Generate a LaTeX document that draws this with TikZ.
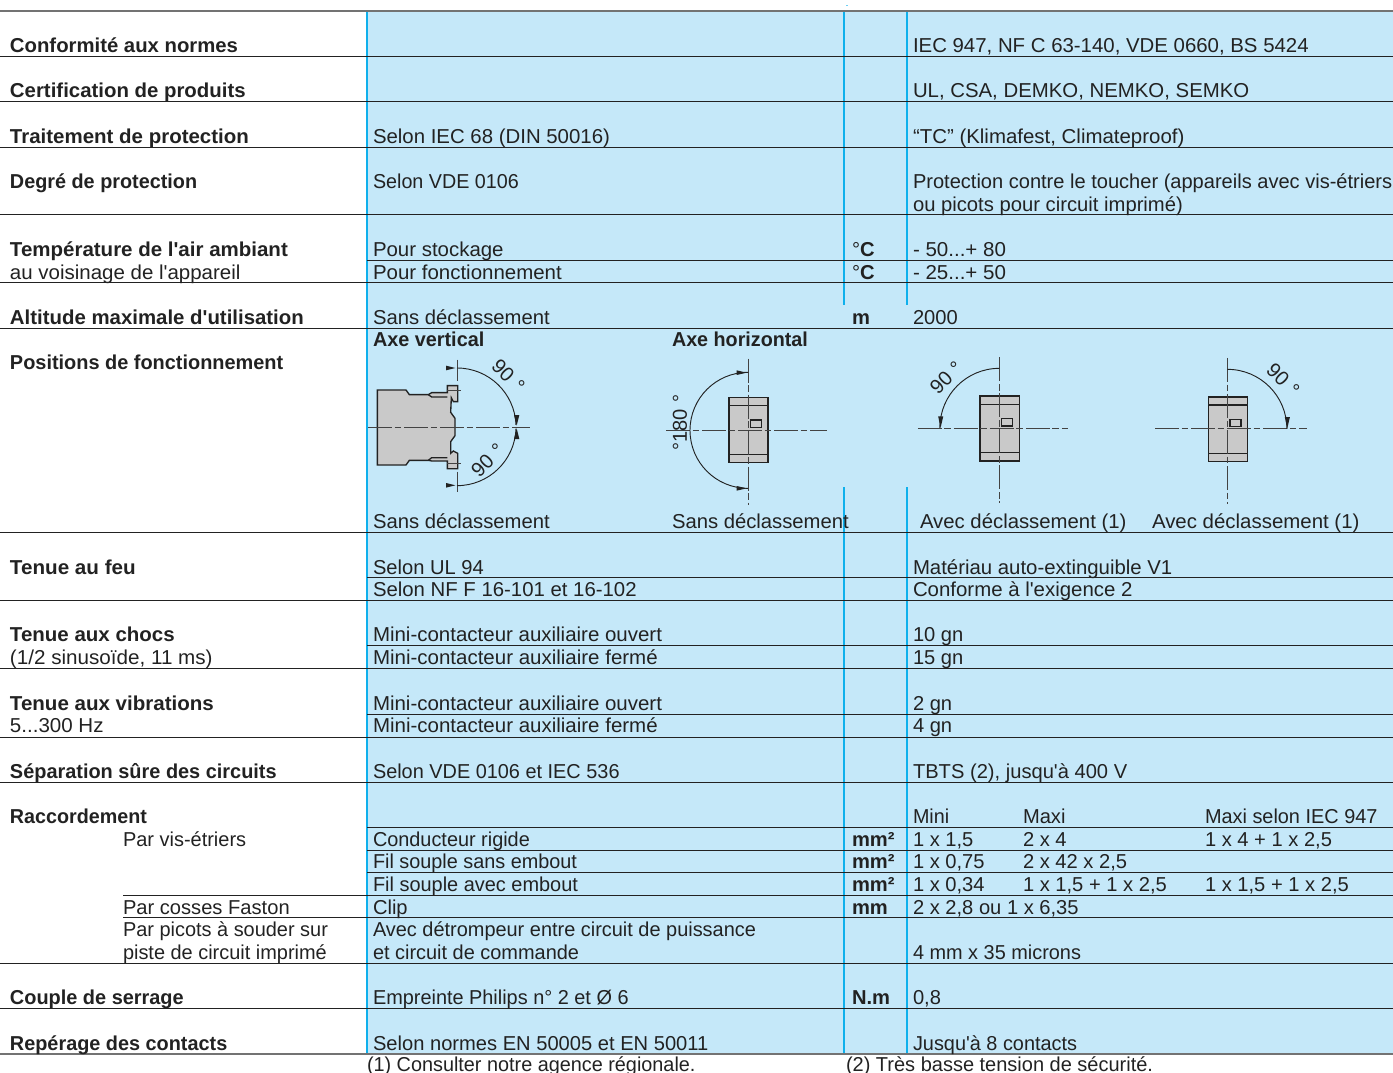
\documentclass[tikz,border=0pt]{standalone}
\usepackage{graphicx}
\usepackage{fontspec}
\setmainfont{Liberation Sans}[Ligatures=TeXOff]
\definecolor{bgblue}{HTML}{C5E8F9}
\definecolor{cyanline}{HTML}{0FB0EC}
\definecolor{ink}{HTML}{222222}
\definecolor{figfill}{HTML}{C9C9C9}
\newcounter{lblno}
\tikzset{
  lbl/.style={anchor=base west,inner sep=0pt,outer sep=0pt,text=ink,font=\fontsize{15.1pt}{15.1pt}\selectfont},
  blbl/.style={lbl,font=\fontsize{15.1pt}{15.1pt}\selectfont\bfseries},
  rule/.style={draw=ink,line width=0.75pt},
  greyrule/.style={draw=black!55,line width=1.5pt},
  vline/.style={draw=cyanline,line width=2.1pt},
  centerline/.style={draw=ink!85,line width=0.6pt,dash pattern=on 18pt off 2pt on 5pt off 2pt},
  part/.style={draw=ink,line width=1pt,fill=figfill},
  arc line/.style={draw=ink,line width=0.7pt},
  tip/.style={fill=ink,draw=none},
}
\newcommand{\T}[4][1]{\stepcounter{lblno}\node[lbl] (t\thelblno) at (#2,#3) {\scalebox{#1}[1]{#4}};}
\newcommand{\B}[4][1]{\stepcounter{lblno}\node[blbl] (t\thelblno) at (#2,#3) {\scalebox{#1}[1]{#4}};}
\newcommand{\R}[4]{\stepcounter{lblno}\node[lbl,anchor=center,rotate=#3] (t\thelblno) at (#1,#2) {#4};}
\newcommand{\RU}[3]{\draw[rule] (#1,#2) -- (#3,#2);}
\begin{document}
\begin{tikzpicture}[x=0.75pt,y=-0.75pt]
\useasboundingbox (0,0) rectangle (1393,1073);
\fill[bgblue] (367,11) rectangle (1393,1054);
\fill[cyanline!60] (846,5.5) rectangle (847.5,6.5);
% vertical bars
\draw[vline] (367,12) -- (367,1054);
\draw[vline] (844,12) -- (844,305);
\draw[vline] (907,12) -- (907,305);
\draw[vline] (844,487) -- (844,1054);
\draw[vline] (907,487) -- (907,1054);
% rows
\draw[greyrule] (0,11) -- (1393,11);
\RU{0}{56.5}{1393}
\RU{0}{102}{1393}
\RU{0}{147.5}{1393}
\RU{0}{215}{1393}
\RU{367}{260.5}{1393}
\RU{0}{283}{1393}
\RU{0}{328.5}{1393}
\RU{0}{532}{1393}
\RU{367}{577.5}{1393}
\RU{0}{600.5}{1393}
\RU{367}{645.5}{1393}
\RU{0}{668.5}{1393}
\RU{367}{714}{1393}
\RU{0}{737}{1393}
\RU{0}{782}{1393}
\RU{367}{827}{1393}
\RU{367}{850}{1393}
\RU{367}{872.5}{1393}
\RU{123}{895}{1393}
\RU{123}{917.5}{1393}
\RU{0}{963}{1393}
\RU{0}{1008.5}{1393}
\draw[greyrule] (0,1054) -- (1393,1054);
% left column
\B[1.009]{10}{53}{Conformité aux normes}
\B[1.013]{10}{98}{Certification de produits}
\B[1.017]{10}{144}{Traitement de protection}
\B[0.984]{10}{189}{Degré de protection}
\B[1.018]{10}{257}{Température de l'air ambiant}
\T[1.017]{10}{280}{au voisinage de l'appareil}
\B[1.013]{10}{325}{Altitude maximale d'utilisation}
\B[0.989]{10}{369}{Positions de fonctionnement}
\B[1.025]{10}{574}{Tenue au feu}
\B[1.018]{10}{641}{Tenue aux chocs}
\T[1.025]{10}{664}{(1/2 sinusoïde, 11 ms)}
\B[1.02]{10}{710}{Tenue aux vibrations}
\T[1.02]{10}{732}{5...300 Hz}
\B[0.989]{10}{778}{Séparation sûre des circuits}
\B[0.979]{10}{823}{Raccordement}
\T[0.992]{123}{846}{Par vis-étriers}
\T{123}{914}{Par cosses Faston}
\T[0.99]{123}{936}{Par picots à souder sur}
\T[0.99]{123}{959}{piste de circuit imprimé}
\B[0.989]{10}{1004}{Couple de serrage}
\B[0.986]{10}{1050}{Repérage des contacts}
% middle column
\T[1.013]{373}{144}{Selon IEC 68 (DIN 50016)}
\T[0.98]{373}{189}{Selon VDE 0106}
\T[1.015]{373}{257}{Pour stockage}
\T[1.016]{373}{280}{Pour fonctionnement}
\T[1.006]{373}{325}{Sans déclassement}
\B[0.985]{373}{347}{Axe vertical}
\B[0.98]{672}{347}{Axe horizontal}
\T[1.006]{373}{528}{Sans déclassement}
\T[1.006]{672}{528}{Sans déclassement}
\T[1.01]{920}{528}{Avec déclassement (1)}
\T[1.015]{1152}{528}{Avec déclassement (1)}
\T{373}{574}{Selon UL 94}
\T[1.011]{373}{596}{Selon NF F 16-101 et 16-102}
\T[1.017]{373}{641}{Mini-contacteur auxiliaire ouvert}
\T[1.018]{373}{664}{Mini-contacteur auxiliaire fermé}
\T[1.017]{373}{710}{Mini-contacteur auxiliaire ouvert}
\T[1.018]{373}{732}{Mini-contacteur auxiliaire fermé}
\T[0.988]{373}{778}{Selon VDE 0106 et IEC 536}
\T[0.987]{373}{846}{Conducteur rigide}
\T[0.985]{373}{868}{Fil souple sans embout}
\T[0.99]{373}{891}{Fil souple avec embout}
\T{373}{914}{Clip}
\T[0.99]{373}{936}{Avec détrompeur entre circuit de puissance}
\T[0.99]{373}{959}{et circuit de commande}
\T[0.988]{373}{1004}{Empreinte Philips n° 2 et Ø 6}
\T{373}{1050}{Selon normes EN 50005 et EN 50011}
% units
\T{852}{257}{°\textbf{C}}
\T{852}{280}{°\textbf{C}}
\B{852}{325}{m}
\B{852}{846}{mm²}
\B{852}{868}{mm²}
\B{852}{891}{mm²}
\B{852}{914}{mm}
\B{852}{1004}{N.m}
% right column
\T[1.013]{913}{53}{IEC 947, NF C 63-140, VDE 0660, BS 5424}
\T[1.012]{913}{98}{UL, CSA, DEMKO, NEMKO, SEMKO}
\T[1.015]{913}{144}{“TC” (Klimafest, Climateproof)}
\T[0.996]{913}{189}{Protection contre le toucher (appareils avec vis-étriers}
\T[1.005]{913}{212}{ou picots pour circuit imprimé)}
\T[1.02]{913}{257}{- 50...+ 80}
\T[1.02]{913}{280}{- 25...+ 50}
\T{913}{325}{2000}
\T[1.012]{913}{574}{Matériau auto-extinguible V1}
\T[1.014]{913}{596}{Conforme à l'exigence 2}
\T{913}{641}{10 gn}
\T{913}{664}{15 gn}
\T{913}{710}{2 gn}
\T{913}{732}{4 gn}
\T{913}{778}{TBTS (2), jusqu'à 400 V}
\T[0.98]{913}{823}{Mini}
\T{1023}{823}{Maxi}
\T[0.988]{1205}{823}{Maxi selon IEC 947}
\T{913}{846}{1 x 1,5}
\T{1023}{846}{2 x 4}
\T{1205}{846}{1 x 4 + 1 x 2,5}
\T{913}{868}{1 x 0,75}
\T{1023}{868}{2 x 42 x 2,5}
\T{913}{891}{1 x 0,34}
\T{1023}{891}{1 x 1,5 + 1 x 2,5}
\T{1205}{891}{1 x 1,5 + 1 x 2,5}
\T{913}{914}{2 x 2,8 ou 1 x 6,35}
\T[0.988]{913}{959}{4 mm x 35 microns}
\T{913}{1004}{0,8}
\T[0.988]{913}{1050}{Jusqu'à 8 contacts}
% footnotes
\T[0.985]{367}{1071}{(1) Consulter notre agence régionale.}
\T[0.993]{846}{1071}{(2) Très basse tension de sécurité.}
% figure 1
\begin{scope}[shift={(360,325)},x=0.25pt,y=-0.25pt]
\draw[part] (52,195) -- (138,195) -- (148,209) -- (205,209) -- (215,203) -- (262,203) -- (262,182) -- (293,182) -- (293,230) -- (280,230) -- (274,218) -- (272,262) -- (285,280) -- (285,332) -- (272,350) -- (272,385) -- (280,378) -- (293,385) -- (293,431) -- (262,431) -- (262,408) -- (215,408) -- (205,406) -- (148,406) -- (138,420) -- (52,420) -- cycle;
\draw[part,fill=none] (205,209) -- (215,216) -- (262,216);
\draw[part,fill=none] (205,406) -- (215,398) -- (262,398);
\draw[centerline] (24,306) -- (510,306);
\draw[centerline,solid] (291,104) -- (291,168);
\draw[centerline,solid] (262,197) -- (303,197);
\draw[centerline,solid] (262,414) -- (303,414);
\draw[centerline,solid] (291,440) -- (291,500);
\draw[arc line] (291,129) arc[start angle=90,end angle=2,radius=44.25pt];
\draw[arc line] (291,482) arc[start angle=-90,end angle=-2,radius=44.25pt];
\fill[tip] (258,122) -- (286,129) -- (258,136) -- cycle;
\fill[tip] (258,474) -- (286,481) -- (258,488) -- cycle;
\fill[tip] (462,270) -- (478,270) -- (470,302) -- cycle;
\fill[tip] (462,342) -- (478,342) -- (470,310) -- cycle;
\R{445}{153}{-45}{90\,\,°}
\R{383}{406}{45}{90\,\,°}
\end{scope}
% figure 2
\begin{scope}[shift={(360,325)},x=0.25pt,y=-0.25pt]
\draw[part] (1107,218) rectangle (1224,413);
\draw[part] (1107,242) -- (1224,242);
\draw[part] (1107,388) -- (1224,388);
\draw[part,fill=none] (1172,285) rectangle (1204,308);
\draw[centerline] (918,315) -- (1400,315);
\draw[centerline] (1164,101) -- (1164,540);
\draw[arc line] (1164,142) arc[start angle=90,end angle=270,radius=43.5pt];
\fill[tip] (1130,136) -- (1160,143) -- (1130,150) -- cycle;
\fill[tip] (1130,483) -- (1160,490) -- (1130,497) -- cycle;
\R{960}{292}{90}{°180\,\,°}
\end{scope}
% figure 3 and 4
\begin{scope}[shift={(860,325)},x=0.2549pt,y=-0.25pt]
\draw[part] (353,213) rectangle (469,408);
\draw[part] (353,238) -- (469,238);
\draw[part] (353,383) -- (469,383);
\draw[part,fill=none] (416,280) rectangle (449,303);
\draw[centerline] (170,309) -- (612,309);
\draw[centerline] (410,97) -- (410,535);
\draw[arc line] (410,130) arc[start angle=90,end angle=180,radius=44.6pt];
\fill[tip] (230,274) -- (245,274) -- (237,309) -- cycle;
\R{254}{158}{45}{90\,\,°}
\draw[part] (1026,216) rectangle (1140,410);
\draw[part] (1026,240) -- (1140,240);
\draw[part] (1026,385) -- (1140,385);
\draw[part,fill=none] (1089,283) rectangle (1121,305);
\draw[centerline] (868,311) -- (1315,311);
\draw[centerline] (1081,99) -- (1081,536);
\draw[arc line] (1081,133) arc[start angle=90,end angle=0,radius=44.6pt];
\fill[tip] (1250,276) -- (1265,276) -- (1257,311) -- cycle;
\R{1245}{165}{-45}{90\,\,°}
\end{scope}
\end{tikzpicture}
\end{document}
